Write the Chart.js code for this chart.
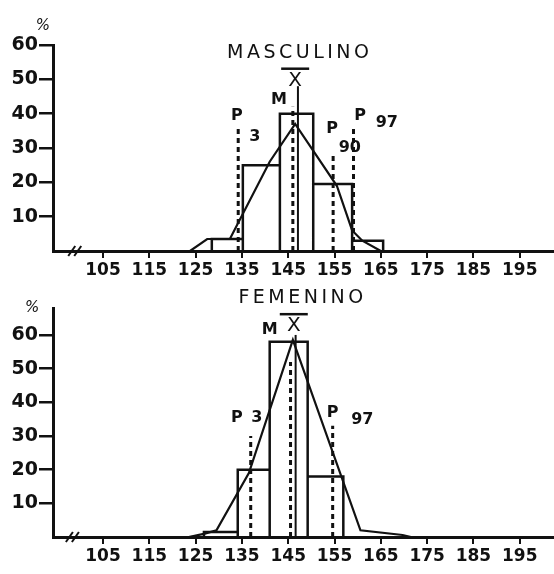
<!DOCTYPE html>
<html>
<head>
<meta charset="utf-8">
<script src="https://cdn.jsdelivr.net/npm/chart.js@4.4.0/dist/chart.umd.min.js"></script>
<style>
  html, body { margin: 0; padding: 0; background: #fff; }
  .box { position: relative; width: 554px; height: 287px; }
</style>
</head>
<body>
<div class="box"><canvas id="chart-masc"></canvas></div>
<div class="box"><canvas id="chart-fem"></canvas></div>
<script>
// tick labels
var xTicks = [105, 115, 125, 135, 145, 155, 165, 175, 185, 195];
var yTicks = [10, 20, 30, 40, 50, 60];

// MASCULINO: class edges (cm) and % per class
var mascEdges = [128.5, 135.2, 143.2, 150.4, 158.8, 165.5];
var mascFreq = [3.5, 25, 40, 19.5, 3];
// frequency polygon
var mascPolyX = [123.8, 127.5, 132.4, 141, 146.5, 155.5, 158.8, 161, 165];
var mascPolyY = [0, 3.5, 3.5, 26, 37, 19, 6, 3, 0];
// P3, M, mean, P90, P97 positions and how high the line is drawn
var mascMarkX = [134.2, 146.0, 147.1, 154.7, 159.1];
var mascMarkTop = [36, 42, 48, 28, 35.5];

// FEMENINO
var femEdges = [126.8, 134.1, 141, 149.2, 156.9];
var femFreq = [1.5, 20, 58, 18];
var femPolyX = [123.5, 127, 129.5, 136.5, 146, 160.6, 169.7, 171.5];
var femPolyY = [0, 1, 2, 19, 58.5, 2, 0.6, 0];
// P3, M, mean, P97
var femMarkX = [136.9, 145.5, 146.6, 154.6];
var femMarkTop = [30, 52, 60, 33];

var INK = '#111';
var FONT = '"DejaVu Sans", sans-serif';

function histOutline(edges, freq) {
  var pts = [];
  for (var i = 0; i < freq.length; i++) {
    pts.push({ x: edges[i], y: 0 }, { x: edges[i], y: freq[i] }, { x: edges[i + 1], y: freq[i] }, { x: edges[i + 1], y: 0 });
  }
  return pts;
}

function zip(xs, ys) {
  return xs.map(function (x, i) { return { x: x, y: ys[i] }; });
}

function markLine(x, top, dashed) {
  return {
    data: [{ x: x, y: 0 }, { x: x, y: top }],
    showLine: true,
    borderColor: INK,
    borderWidth: dashed ? 3 : 2,
    borderDash: dashed ? [5, 4] : [],
    pointRadius: 0,
  };
}

// texts, axis break and the x-bar symbol
var annotPlugin = {
  id: 'annot',
  afterDraw: function (chart, args, o) {
    var ctx = chart.ctx;
    var sx = chart.scales.x, sy = chart.scales.y;
    ctx.save();
    ctx.fillStyle = INK;
    ctx.strokeStyle = INK;
    ctx.textAlign = 'center';
    ctx.textBaseline = 'middle';

    // title
    ctx.font = '19px ' + FONT;
    ctx.letterSpacing = '3.5px';
    ctx.fillText(o.title.text, sx.getPixelForValue(o.title.x), sy.getPixelForValue(o.title.y));
    ctx.letterSpacing = '0px';

    // percentile labels
    ctx.font = 'bold 16px ' + FONT;
    o.labels.forEach(function (l) {
      ctx.fillText(l.text, sx.getPixelForValue(l.x), sy.getPixelForValue(l.y));
    });

    // % sign on the y axis
    ctx.font = 'italic 15px ' + FONT;
    ctx.fillText('%', sx.getPixelForValue(o.pct.x), sy.getPixelForValue(o.pct.y));

    // x-bar
    var mx = sx.getPixelForValue(o.mean.x), my = sy.getPixelForValue(o.mean.y);
    ctx.font = '20px ' + FONT;
    ctx.fillText('X', mx, my);
    ctx.lineWidth = 2.5;
    ctx.beginPath();
    ctx.moveTo(mx - 14, my - 12);
    ctx.lineTo(mx + 14, my - 12);
    ctx.stroke();

    // axis break
    var bx = sx.getPixelForValue(o.breakAt), by = sy.getPixelForValue(0);
    ctx.lineWidth = 2;
    [-3, 3].forEach(function (d) {
      ctx.beginPath();
      ctx.moveTo(bx + d - 4, by + 5);
      ctx.lineTo(bx + d + 3, by - 5);
      ctx.stroke();
    });
    ctx.restore();
  },
};

function makeChart(id, cfg) {
  var datasets = [
    { data: histOutline(cfg.edges, cfg.freq), showLine: true, borderColor: INK, borderWidth: 2.5, pointRadius: 0 },
    { data: zip(cfg.polyX, cfg.polyY), showLine: true, borderColor: INK, borderWidth: 2.2, pointRadius: 0 },
  ];
  cfg.markX.forEach(function (x, i) {
    datasets.push(markLine(x, cfg.markTop[i], i !== cfg.meanIndex));
  });

  return new Chart(document.getElementById(id), {
    type: 'scatter',
    data: { datasets: datasets },
    options: {
      responsive: true,
      maintainAspectRatio: false,
      animation: false,
      layout: { padding: { top: cfg.padTop, left: 0, right: 0, bottom: 0 } },
      plugins: {
        legend: { display: false },
        tooltip: { enabled: false },
        annot: cfg.annot,
      },
      scales: {
        x: {
          type: 'linear',
          min: 94.2,
          max: 202.4,
          afterBuildTicks: function (s) { s.ticks = xTicks.map(function (v) { return { value: v }; }); },
          afterFit: function (s) { s.height = cfg.xHeight; },
          ticks: { color: INK, font: { family: FONT, size: 17, weight: 'bold' }, padding: 2, maxRotation: 0, autoSkip: false },
          grid: { drawOnChartArea: false, tickLength: 7, lineWidth: 2, color: INK },
          border: { display: true, width: 3, color: INK },
        },
        y: {
          min: 0,
          max: cfg.yMax,
          afterBuildTicks: function (s) { s.ticks = yTicks.map(function (v) { return { value: v }; }); },
          afterFit: function (s) { s.width = 53; },
          ticks: { color: INK, font: { family: FONT, size: 19, weight: 'bold' }, padding: 1 },
          grid: { drawOnChartArea: false, tickLength: 14, lineWidth: 2.5, color: INK },
          border: { display: true, width: 3, color: INK },
        },
      },
    },
    plugins: [annotPlugin],
  });
}

makeChart('chart-masc', {
  edges: mascEdges, freq: mascFreq, polyX: mascPolyX, polyY: mascPolyY,
  markX: mascMarkX, markTop: mascMarkTop, meanIndex: 2,
  padTop: 45, xHeight: 36, yMax: 60,
  annot: {
    title: { text: 'MASCULINO', x: 147.5, y: 57.7 },
    labels: [
      { text: 'P', x: 133.9, y: 39.4 },
      { text: '3', x: 137.8, y: 33.2 },
      { text: 'M', x: 143.0, y: 44 },
      { text: 'P', x: 154.5, y: 35.6 },
      { text: '90', x: 158.3, y: 30 },
      { text: 'P', x: 160.5, y: 39.4 },
      { text: '97', x: 166.3, y: 37.3 },
    ],
    pct: { x: 92.0, y: 65.6 },
    mean: { x: 146.5, y: 49.6 },
    breakAt: 99,
  },
});

makeChart('chart-fem', {
  edges: femEdges, freq: femFreq, polyX: femPolyX, polyY: femPolyY,
  markX: femMarkX, markTop: femMarkTop, meanIndex: 2,
  padTop: 21, xHeight: 37, yMax: 68,
  annot: {
    title: { text: 'FEMENINO', x: 148.1, y: 70.9 },
    labels: [
      { text: 'P', x: 133.9, y: 35.3 },
      { text: '3', x: 138.2, y: 35.3 },
      { text: 'M', x: 141, y: 61.4 },
      { text: 'P', x: 154.6, y: 36.8 },
      { text: '97', x: 161, y: 34.7 },
    ],
    pct: { x: 89.7, y: 68 },
    mean: { x: 146.2, y: 62.6 },
    breakAt: 98.5,
  },
});
</script>
</body>
</html>
